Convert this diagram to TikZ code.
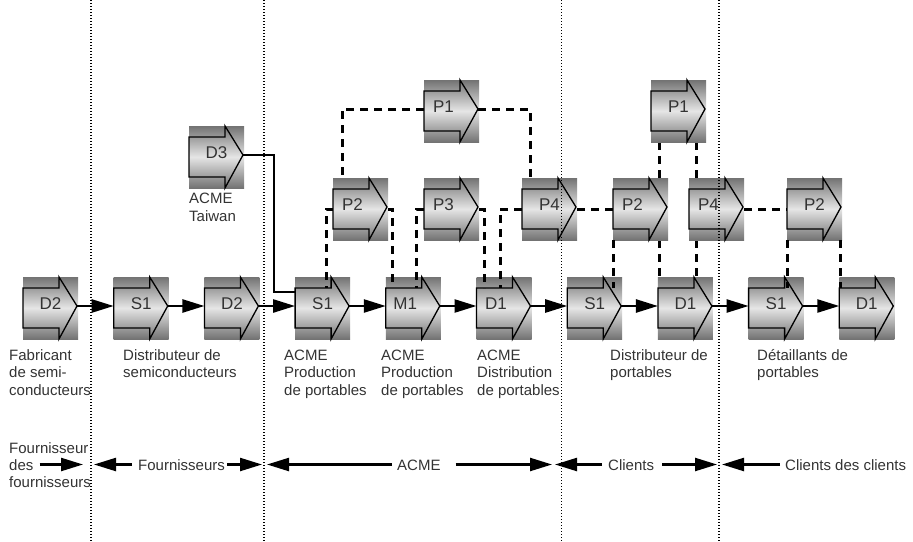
\documentclass[tikz,border=0pt]{standalone}
\usepackage{fontspec}
\setmainfont{Liberation Sans}
\usetikzlibrary{arrows.meta,calc,backgrounds}

\definecolor{inkgray}{HTML}{333333}

% step name set slightly towards the arrow body
\newcommand\leftname[1]{\kern-16pt #1}

\tikzset{
  % process step: shaded square, block arrow outline added afterwards
  stage/.style={minimum width=55pt, minimum height=62pt, inner sep=0pt, outer sep=0pt,
    top color=black!55, bottom color=black!55, middle color=black!10,
    font=\fontsize{17}{20}\selectfont, text=inkgray, text height=12pt, text depth=10pt},
  blockarrow/.style={line width=1.3pt, line join=miter},
  caption/.style={align=left, anchor=base west, inner sep=0pt,
    font=\fontsize{15}{17.5}\selectfont, text=inkgray},
  spanlabel/.style={anchor=base west, inner sep=0pt, text height=11pt, text depth=0pt,
    font=\fontsize{15}{17.5}\selectfont, text=inkgray},
  flow/.style={line width=2.5pt, -{Triangle[length=22pt,width=13pt]}},
  span/.style={line width=2.3pt, -{Triangle[length=22pt,width=13pt]}},
  feed/.style={line width=2.2pt},
  link/.style={line width=3pt, dash pattern=on 8pt off 6pt},
  zone/.style={line width=1.2pt, dash pattern=on 1.2pt off 1.8pt},
}

\begin{document}
\begin{tikzpicture}[x=1pt, y=-1pt]
\useasboundingbox (0,0) rectangle (913,541);

% main chain
\node[stage] (d2a) at (50.5,308)  {D2};
\node[stage] (s1a) at (141.2,308) {S1};
\node[stage] (d2b) at (231.9,308) {D2};
\node[stage] (s1b) at (322.6,308) {S1};
\node[stage] (m1)  at (413.3,308) {\leftname{M1}};
\node[stage] (d1a) at (504,308)   {\leftname{D1}};
\node[stage] (s1c) at (594.7,308) {S1};
\node[stage] (d1b) at (685.4,308) {D1};
\node[stage] (s1d) at (776.1,308) {S1};
\node[stage] (d1c) at (866.8,308) {D1};

% planning steps
\node[stage] (p2a) at (360.5,209) {\leftname{P2}};
\node[stage] (p3)  at (451.5,209) {\leftname{P3}};
\node[stage] (p4a) at (549.5,209) {P4};
\node[stage] (p2b) at (640.5,209) {\leftname{P2}};
\node[stage] (p4b) at (716.5,209) {\leftname{P4}};
\node[stage] (p2c) at (814.5,209) {P2};
\node[stage] (p1a) at (451.5,111) {\leftname{P1}};
\node[stage] (p1b) at (678.5,111) {P1};

% Taiwan site
\node[stage] (d3) at (216.5,157) {D3};
\node[caption] (taiwan) at (189,221) {ACME\\Taiwan};

% block arrow outline on every step
\foreach \n in {d2a,s1a,d2b,s1b,m1,d1a,s1c,d1b,s1d,d1c,p2a,p3,p4a,p2b,p4b,p2c,p1a,p1b,d3}
  \draw[blockarrow, shift={(\n.north west)}]
    (0,11) -- (36,11) -- (36,0) -- (54,29) -- (36,62) -- (36,51) -- (0,51) -- cycle;

% material flow
\foreach \a/\b in {d2a/s1a, s1a/d2b, d2b/s1b, s1b/m1, m1/d1a, d1a/s1c, s1c/d1b, d1b/s1d, s1d/d1c}
  \draw[flow] ($(\a.east)+(-1,-2)$) -- ($(\b.west)+(0,-2)$);
\draw[feed] ($(d3.east)+(-1,-2)$) -- ++(31,0) |- ($(s1b.west)+(0,-16)$);

% planning links
\draw[link] ($(p1a.west)+(0,-2)$) -| ($(p2a.north west)+(9,0)$);
\draw[link] ($(p1a.east)+(-1,-2)$) -| ($(p4a.north west)+(8,0)$);
\draw[link] (p2a.west) -| ($(s1b.north west)+(31,11)$);
\draw[link] (p2a.east) -| ($(m1.north west)+(7,11)$);
\draw[link] (p3.west) -| ($(m1.north west)+(31,11)$);
\draw[link] (p3.east) -| ($(d1a.north west)+(7.5,11)$);
\draw[link] (p4a.west) -| ($(d1a.north west)+(23.5,11)$);
\draw[link] (p4a.east) -- (p2b.west);
\draw[link] (p2b.south west) -- ($(s1c.north west)+(45.8,11)$);
\draw[link] (p4b.east) -- (p2c.west);
\draw[link] (p2c.south west) -- ($(s1d.north west)+(38.4,11)$);
\draw[link] ($(p2c.south west)+(53,0)$) -- ($(d1c.north west)+(0.7,11)$);
\begin{scope}[on background layer]
  \draw[link] ($(p1b.south west)+(8,0)$) -- ($(d1b.north west)+(1.1,11)$);
  \draw[link] ($(p1b.south west)+(45,0)$) -- ($(d1b.north west)+(38.1,11)$);
\end{scope}

% stage captions (anchored on the baseline of their last line)
\node[caption] (c1) at (9,395)     {Fabricant\\de semi-\\conducteurs};
\node[caption] (c2) at (123,377.5) {Distributeur de\\semiconducteurs};
\node[caption] (c3) at (284,395)   {ACME\\Production\\de portables};
\node[caption] (c4) at (381,395)   {ACME\\Production\\de portables};
\node[caption] (c5) at (477,395)   {ACME\\Distribution\\de portables};
\node[caption] (c6) at (610,377.5) {Distributeur de\\portables};
\node[caption] (c7) at (757,377.5) {Détaillants de\\portables};

% scope of each party
\node[spanlabel] (fsup1) at (9,453) {Fournisseur};
\node[spanlabel] (fsup2) at (9,470) {des};
\node[spanlabel] (fsup3) at (9,487) {fournisseurs};
\node[spanlabel] (fourn) at (138,470) {Fournisseurs};
\node[spanlabel] (acme) at (397,470) {ACME};
\node[spanlabel] (clients) at (608,470) {Clients};
\node[spanlabel] (cdc) at (785,470) {Clients des clients};

\coordinate (tA) at (83,464.5);
\coordinate (tB) at (94,464.5);
\coordinate (tC) at (262,464.5);
\coordinate (tD) at (267,464.5);
\coordinate (tE) at (552,464.5);
\coordinate (tF) at (555,464.5);
\coordinate (tG) at (717,464.5);
\coordinate (tH) at (722,464.5);

\draw[span] ($(fsup2.east)+(6,0)$) -- (tA);
\draw[span] ($(fourn.west)+(-6,0)$) -- (tB);
\draw[span] ($(fourn.east)+(2,0)$) -- (tC);
\draw[span] ($(acme.west)+(-5,0)$) -- (tD);
\draw[span] ($(acme.east)+(15,0)$) -- (tE);
\draw[span] ($(clients.west)+(-6,0)$) -- (tF);
\draw[span] ($(clients.east)+(8,0)$) -- (tG);
\draw[span] ($(cdc.west)+(-5,0)$) -- (tH);

% boundaries between parties
\foreach \x in {91,264,561.5,719}
  \draw[zone] (\x,0) -- (\x,541);
\end{tikzpicture}
\end{document}
